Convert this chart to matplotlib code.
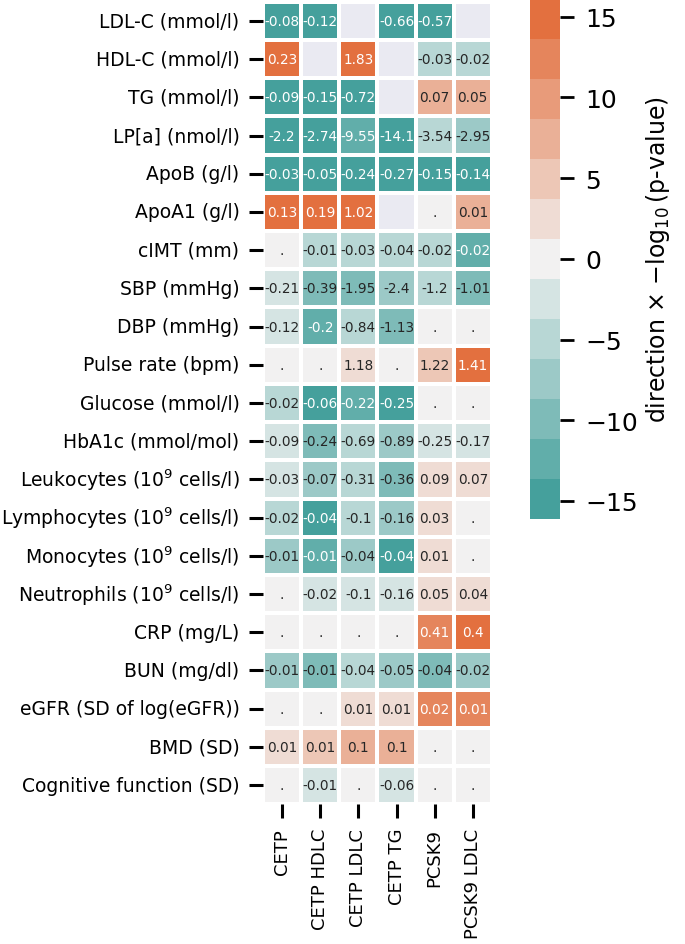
import numpy as np
import pandas as pd
import seaborn as sns
import matplotlib
matplotlib.use("Agg")
from matplotlib import pyplot as plt

nan = np.nan

# columns (drug targets) and rows (outcomes)
targets = ["CETP", "CETP HDLC", "CETP LDLC", "CETP TG", "PCSK9", "PCSK9 LDLC"]
outcomes = [
    "LDL-C (mmol/l)", "HDL-C (mmol/l)", "TG (mmol/l)", "LP[a] (nmol/l)",
    "ApoB (g/l)", "ApoA1 (g/l)", "cIMT (mm)", "SBP (mmHg)", "DBP (mmHg)",
    "Pulse rate (bpm)", "Glucose (mmol/l)", "HbA1c (mmol/mol)",
    "Leukocytes (10$^9$ cells/l)", "Lymphocytes (10$^9$ cells/l)",
    "Monocytes (10$^9$ cells/l)", "Neutrophils (10$^9$ cells/l)",
    "CRP (mg/L)", "BUN (mg/dl)", "eGFR (SD of log(eGFR))", "BMD (SD)",
    "Cognitive function (SD)",
]

# direction x -log10(p) (colour), estimated from the colour bands
signed_logp = [
    [-15, -15, nan, -15, -15, nan],
    [15, nan, 15, nan, -5, -5],
    [-15, -15, -15, nan, 7.4, 7.4],
    [-15, -15, -12.4, -15, -5, -7.4],
    [-15, -15, -15, -15, -15, -15],
    [15, 15, 15, nan, 0, 7.4],
    [0, -5, -5, -5, -5, -12.4],
    [-2.5, -9.9, -9.9, -7.4, -5, -9.9],
    [-2.5, -12.4, -5, -9.9, 0, 0],
    [0, 0, 2.5, 0, 5, 15],
    [-5, -15, -12.4, -15, 0, 0],
    [-2.5, -9.9, -5, -7.4, -2.5, -2.5],
    [-2.5, -7.4, -5, -9.9, 2.5, 2.5],
    [-5, -15, -5, -7.4, 2.5, 0],
    [-7.4, -12.4, -7.4, -15, 2.5, 0],
    [0, -2.5, -2.5, -2.5, 2.5, 2.5],
    [0, 0, 0, 0, 12.4, 15],
    [-7.4, -9.9, -5, -7.4, -9.9, -7.4],
    [0, 0, 2.5, 2.5, 12.4, 12.4],
    [2.5, 5, 7.4, 7.4, 0, 0],
    [0, -2.5, 0, -2.5, 0, 0],
]

# effect estimates shown in the cells ("." = not significant)
effects = [
    ["-0.08", "-0.12", "", "-0.66", "-0.57", ""],
    ["0.23", "", "1.83", "", "-0.03", "-0.02"],
    ["-0.09", "-0.15", "-0.72", "", "0.07", "0.05"],
    ["-2.2", "-2.74", "-9.55", "-14.1", "-3.54", "-2.95"],
    ["-0.03", "-0.05", "-0.24", "-0.27", "-0.15", "-0.14"],
    ["0.13", "0.19", "1.02", "", ".", "0.01"],
    [".", "-0.01", "-0.03", "-0.04", "-0.02", "-0.02"],
    ["-0.21", "-0.39", "-1.95", "-2.4", "-1.2", "-1.01"],
    ["-0.12", "-0.2", "-0.84", "-1.13", ".", "."],
    [".", ".", "1.18", ".", "1.22", "1.41"],
    ["-0.02", "-0.06", "-0.22", "-0.25", ".", "."],
    ["-0.09", "-0.24", "-0.69", "-0.89", "-0.25", "-0.17"],
    ["-0.03", "-0.07", "-0.31", "-0.36", "0.09", "0.07"],
    ["-0.02", "-0.04", "-0.1", "-0.16", "0.03", "."],
    ["-0.01", "-0.01", "-0.04", "-0.04", "0.01", "."],
    [".", "-0.02", "-0.1", "-0.16", "0.05", "0.04"],
    [".", ".", ".", ".", "0.41", "0.4"],
    ["-0.01", "-0.01", "-0.04", "-0.05", "-0.04", "-0.02"],
    [".", ".", "0.01", "0.01", "0.02", "0.01"],
    ["0.01", "0.01", "0.1", "0.1", ".", "."],
    [".", "-0.01", ".", "-0.06", ".", "."],
]

cbar_ticks = [-15, -10, -5, 0, 5, 10, 15]

df = pd.DataFrame(signed_logp, index=outcomes, columns=targets)
labels = np.array(effects)

# 13 discrete bands, teal -> light grey -> orange
colours = sns.blend_palette(["#45a09c", "#f2f2f2", "#e3703f"], n_colors=13)

fig = plt.figure(figsize=(6.85, 9.45), dpi=100)
ax = fig.add_axes([0.384, 0.148, 0.334, 0.849])
cax = fig.add_axes([0.774, 0.450, 0.044, 0.550])
ax.set_facecolor("#eaeaf2")

sns.heatmap(df, ax=ax, cbar_ax=cax, cmap=colours, vmin=-16.1, vmax=16.1,
            annot=labels, fmt="", annot_kws={"size": 9.8},
            linewidths=1.5, linecolor="white")

ax.tick_params(axis="both", length=10, width=2.2, pad=7)
ax.set_yticklabels(outcomes, rotation=0, fontsize=13.5)
ax.set_xticklabels(targets, rotation=90, fontsize=13)

cb = ax.collections[0].colorbar
cb.set_ticks(cbar_ticks)
cb.outline.set_visible(False)
cax.tick_params(length=10, width=2, labelsize=18, pad=8)
cax.set_ylabel("direction × $-\\log_{10}$(p-value)", fontsize=17, labelpad=4)

fig.savefig("out.png", dpi=100)
